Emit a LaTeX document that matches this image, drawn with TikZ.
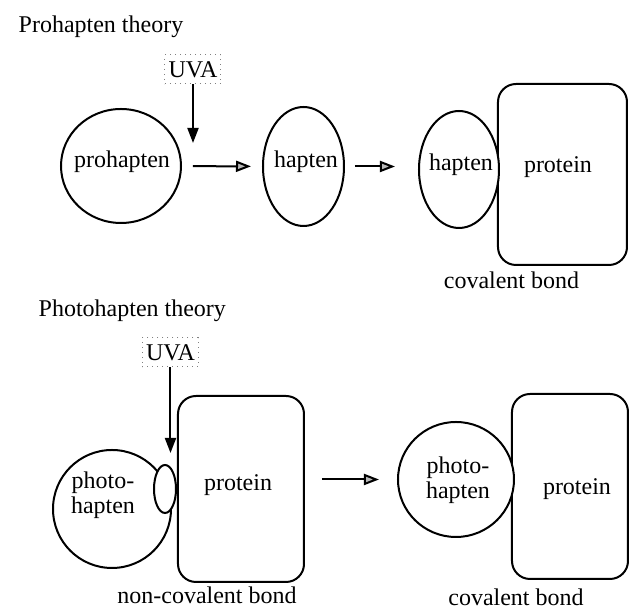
\documentclass[tikz,border=0pt]{standalone}
\usepackage{fontspec}
\setmainfont{Liberation Serif}
\usetikzlibrary{shapes.geometric, arrows.meta}

\begin{document}
\begin{tikzpicture}[x=0.5pt, y=-0.5pt, line width=1pt, font=\fontsize{12}{12.5}\selectfont,
	blob/.style = {draw, ellipse, inner sep=0pt},
	cell/.style = {draw, rectangle, rounded corners=9pt, inner sep=0pt},
	uva/.style = {draw=gray, dotted, line width=0.5pt, inner sep=0.5pt, minimum width=28pt, minimum height=14.5pt},
	ray/.style = {-{Triangle[length=7.5pt, width=5.5pt]}},
	flow/.style = {-{Triangle[length=7.5pt, width=5.5pt, fill=gray!55]}}]
	\useasboundingbox (0,0) rectangle (629,613);
	% prohapten theory
	\node[anchor=base west] (titleA) at (11,33) {Prohapten theory};
	\node[uva] (uvaA) at (193,69.5) {UVA};
	\coordinate (tipA) at (193,143);
	\node[blob, minimum width=60pt, minimum height=57pt] (pro) at (121,166) {};
	\node (proText) at (122,162) {prohapten};
	\node[blob, minimum width=40.5pt, minimum height=59.5pt] (hapA) at (303.5,166.5) {};
	\node (hapAText) at (306,162) {hapten};
	\node[cell, minimum width=64.5pt, minimum height=90.5pt] (protA) at (562.5,174.5) {};
	\node (protAText) at (558,167) {protein};
	\node[blob, fill=white, minimum width=40pt, minimum height=58.5pt] (hapB) at (459,169.5) {};
	\node (hapBText) at (461,165) {hapten};
	\node[anchor=base] (covA) at (511.5,289) {covalent bond};
	\draw[ray] (uvaA) -- (tipA);
	\draw[flow, shorten <=5.5pt, shorten >=5.5pt] (pro) -- (hapA);
	\draw[flow, shorten <=5pt, shorten >=11.5pt] (hapA.east) -- (hapA.east -| hapB.west);
	% photohapten theory
	\node[anchor=base west] (titleB) at (31,317) {Photohapten theory};
	\node[uva] (uvaB) at (170.5,352.5) {UVA};
	\coordinate (tipB) at (170.5,453);
	\node[blob, minimum width=59pt, minimum height=59pt] (phA) at (112,509) {};
	\node[align=center] (phAText) at (103,495) {photo-\\hapten};
	\node[blob, fill=white, minimum width=11pt, minimum height=24pt] (site) at (165,489) {};
	\node[cell, minimum width=63pt, minimum height=93pt] (protB) at (241,489) {};
	\node (protBText) at (238,485) {protein};
	\node[anchor=base] (noncov) at (207,604) {non-covalent bond};
	\node[cell, minimum width=58pt, minimum height=92.5pt] (protC) at (570,486.5) {};
	\node (protCText) at (577,489) {protein};
	\node[blob, fill=white, minimum width=58pt, minimum height=57.5pt] (phB) at (456,479.5) {};
	\node[align=center] (phBText) at (458,480) {photo-\\hapten};
	\node[anchor=base] (covB) at (516,606) {covalent bond};
	\draw[ray] (uvaB) -- (tipB);
	\draw[flow, shorten <=8.5pt, shorten >=9pt] (protB.east |- phB.west) -- (phB.west);
\end{tikzpicture}
\end{document}
